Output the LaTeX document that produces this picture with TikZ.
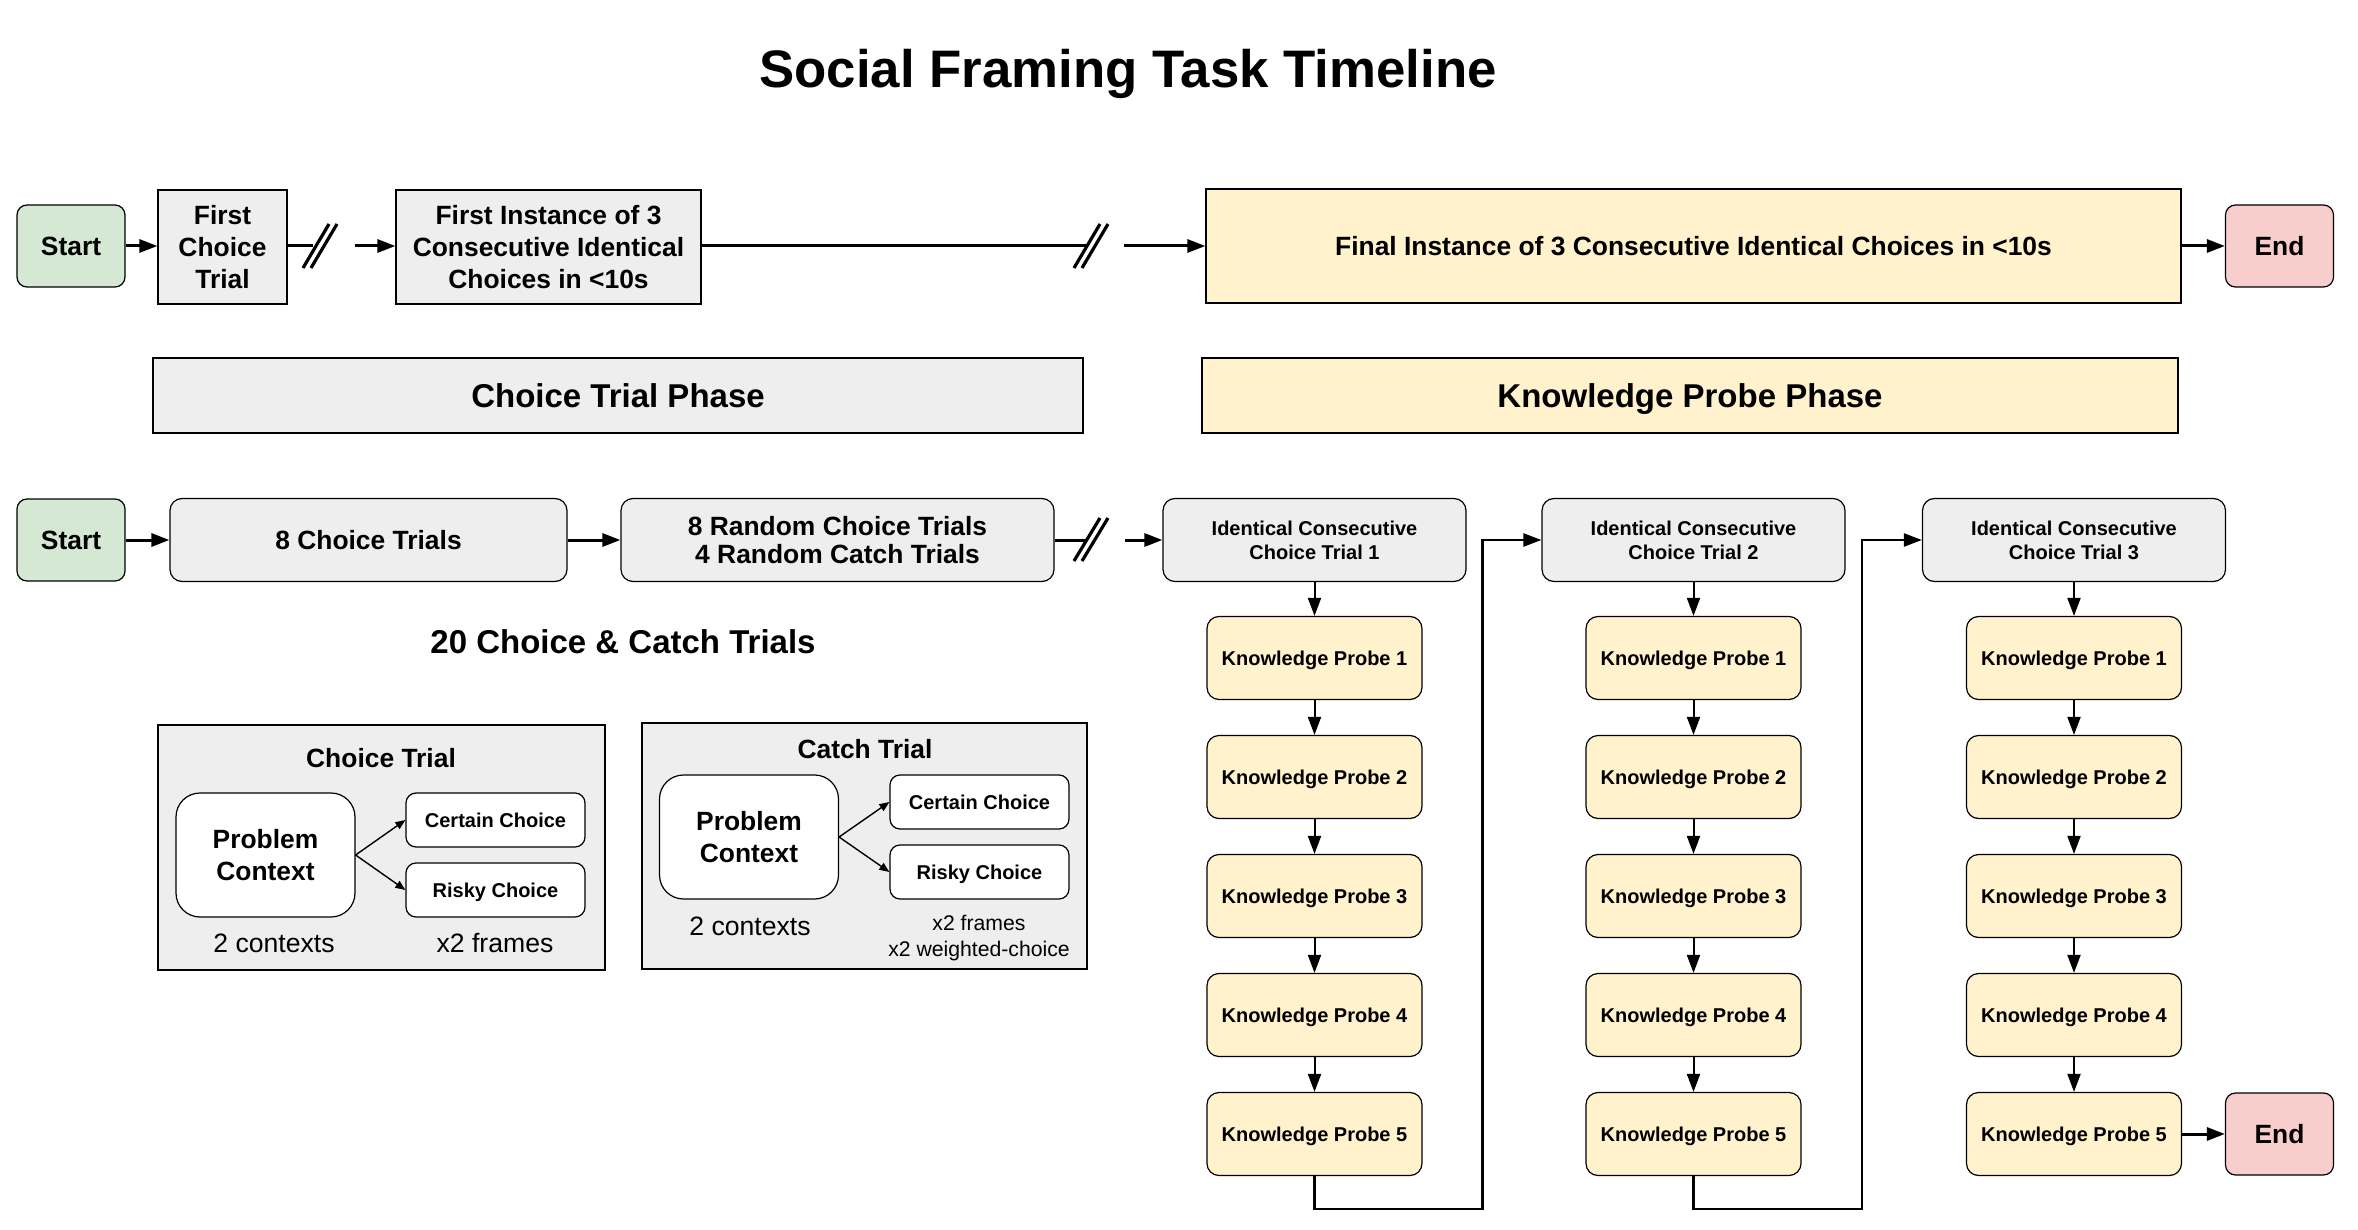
\documentclass[tikz,border=0pt]{standalone}
\usepackage{fontspec}
\setmainfont{Liberation Sans}
\usetikzlibrary{arrows.meta}

\definecolor{startgreen}{HTML}{D5E8D4}
\definecolor{endred}{HTML}{F8CECC}
\definecolor{phasegrey}{HTML}{EEEEEE}
\definecolor{probeyellow}{HTML}{FFF2CC}

\newcommand{\boxfont}{\bfseries\fontsize{13.2}{15.8}\selectfont}
\newcommand{\probefont}{\bfseries\fontsize{10}{12}\selectfont}
\newcommand{\phasefont}{\bfseries\fontsize{16.5}{19.8}\selectfont}
\newcommand{\titlefont}{\bfseries\fontsize{26.4}{31.7}\selectfont}
\newcommand{\notefont}{\fontsize{13.3}{16}\selectfont}
\newcommand{\smallnote}{\fontsize{10.6}{12.8}\selectfont}

\tikzset{
    every node/.style={align=center, inner sep=0pt},
    smallline/.style={text height=7.2pt, text depth=0pt},
    phaseline/.style={text height=11.9pt, text depth=0pt},
    base/.style={draw=black, line width=0.6pt, font=\boxfont},
    terminal/.style={base, rounded corners=5pt, minimum width=54pt, minimum height=41pt},
    startbox/.style={terminal, fill=startgreen},
    endbox/.style={terminal, fill=endred},
    greybox/.style={base, fill=phasegrey},
    yellowbox/.style={base, fill=probeyellow},
    greyround/.style={greybox, rounded corners=6pt, minimum height=41.5pt},
    trialbox/.style={greyround, font=\probefont, minimum width=151.5pt},
    probebox/.style={yellowbox, smallline, rounded corners=6pt, font=\probefont, minimum width=107.5pt, minimum height=41.5pt},
    panel/.style={draw=black, line width=0.6pt, fill=phasegrey},
    contextbox/.style={base, fill=white, rounded corners=12pt, minimum width=89.5pt, minimum height=62pt},
    optionbox/.style={base, smallline, fill=white, rounded corners=5pt, font=\probefont, minimum width=89.5pt, minimum height=27pt},
    flowline/.style={line width=1.5pt},
    flow/.style={flowline, -{Triangle[length=9pt, width=6.5pt]}},
    stepflow/.style={line width=1pt, -{Triangle[length=9pt, width=6.5pt]}},
    loopflow/.style={line width=1.2pt, -{Triangle[length=9pt, width=6.5pt]}},
    branch/.style={line width=0.7pt, -{Triangle[length=5pt, width=4pt]}},
    cutmark/.style={line width=1.6pt}
}

\begin{document}
\begin{tikzpicture}[x=0.5pt, y=-0.5pt]
    \useasboundingbox (0,0) rectangle (2358,1230);

    \node[font=\titlefont, anchor=base] (title) at (1128,88) {Social Framing Task Timeline};

    \node[startbox] (start1) at (71,246) {Start};
    \node[greybox, minimum width=64.5pt, minimum height=57pt] (firsttrial) at (222.5,247) {First\\Choice\\Trial};
    \node[greybox, minimum width=152.5pt, minimum height=57pt] (firstinst) at (548.5,247) {First Instance of 3\\Consecutive Identical\\Choices in <10s};
    \node[yellowbox, minimum width=487.5pt, minimum height=57pt] (finalinst) at (1693.5,246) {Final Instance of 3 Consecutive Identical Choices in <10s};
    \node[endbox] (end1) at (2279.5,246) {End};

    \coordinate (cut1a) at (313,246);
    \coordinate (cut1b) at (355,246);
    \coordinate (cut2a) at (1088,246);
    \coordinate (cut2b) at (1124,246);
    \draw[flow] (start1) -- (start1 -| firsttrial.west);
    \draw[flowline] (firsttrial.east |- cut1a) -- (cut1a);
    \draw[cutmark] (303,268) -- (329,224) (311,268) -- (337,224);
    \draw[flow] (cut1b) -- (cut1b -| firstinst.west);
    \draw[flowline] (firstinst.east |- cut2a) -- (cut2a);
    \draw[cutmark] (1074,268) -- (1100,224) (1082,268) -- (1108,224);
    \draw[flow] (cut2b) -- (finalinst.west);
    \draw[flow] (finalinst) -- (end1);

    \node[greybox, font=\phasefont, minimum width=465pt, minimum height=37.5pt] (choicephase) at (618,395.5) {Choice Trial Phase};
    \node[yellowbox, phaseline, font=\phasefont, minimum width=488pt, minimum height=37.5pt] (probephase) at (1690,395.5) {Knowledge Probe Phase};

    \node[startbox] (start2) at (71,540) {Start};
    \node[greyround, minimum width=198.5pt] (eighttrials) at (368.5,540) {8 Choice Trials};
    \node[greyround, minimum width=216.5pt] (randomtrials) at (837.5,540) {8 Random Choice Trials\\[-1.5pt]4 Random Catch Trials};
    \node[trialbox] (ict1) at (1314.5,540) {Identical Consecutive\\Choice Trial 1};
    \node[trialbox] (ict2) at (1693.5,540) {Identical Consecutive\\Choice Trial 2};
    \node[trialbox] (ict3) at (2074,540) {Identical Consecutive\\Choice Trial 3};

    \coordinate (cut3a) at (1085,540);
    \coordinate (cut3b) at (1125,540);
    \draw[flow] (start2) -- (eighttrials);
    \draw[flow] (eighttrials) -- (randomtrials);
    \draw[flowline] (randomtrials.east) -- (cut3a);
    \draw[cutmark] (1074,561) -- (1100,518) (1082,561) -- (1108,518);
    \draw[flow] (cut3b) -- (ict1.west);

    \node[probebox] (kp11) at (1314.5,658) {Knowledge Probe 1};
    \node[probebox] (kp12) at (1314.5,777) {Knowledge Probe 2};
    \node[probebox] (kp13) at (1314.5,896) {Knowledge Probe 3};
    \node[probebox] (kp14) at (1314.5,1015) {Knowledge Probe 4};
    \node[probebox] (kp15) at (1314.5,1134) {Knowledge Probe 5};
    \node[probebox] (kp21) at (1693.5,658) {Knowledge Probe 1};
    \node[probebox] (kp22) at (1693.5,777) {Knowledge Probe 2};
    \node[probebox] (kp23) at (1693.5,896) {Knowledge Probe 3};
    \node[probebox] (kp24) at (1693.5,1015) {Knowledge Probe 4};
    \node[probebox] (kp25) at (1693.5,1134) {Knowledge Probe 5};
    \node[probebox] (kp31) at (2074,658) {Knowledge Probe 1};
    \node[probebox] (kp32) at (2074,777) {Knowledge Probe 2};
    \node[probebox] (kp33) at (2074,896) {Knowledge Probe 3};
    \node[probebox] (kp34) at (2074,1015) {Knowledge Probe 4};
    \node[probebox] (kp35) at (2074,1134) {Knowledge Probe 5};
    \node[endbox] (end2) at (2279.5,1134) {End};

    \draw[stepflow] (ict1) -- (kp11);
    \draw[stepflow] (kp11) -- (kp12);
    \draw[stepflow] (kp12) -- (kp13);
    \draw[stepflow] (kp13) -- (kp14);
    \draw[stepflow] (kp14) -- (kp15);
    \draw[stepflow] (ict2) -- (kp21);
    \draw[stepflow] (kp21) -- (kp22);
    \draw[stepflow] (kp22) -- (kp23);
    \draw[stepflow] (kp23) -- (kp24);
    \draw[stepflow] (kp24) -- (kp25);
    \draw[stepflow] (ict3) -- (kp31);
    \draw[stepflow] (kp31) -- (kp32);
    \draw[stepflow] (kp32) -- (kp33);
    \draw[stepflow] (kp33) -- (kp34);
    \draw[stepflow] (kp34) -- (kp35);
    \draw[loopflow] (kp15.south) -- ++(0,33) -| ([xshift=-29.5pt]ict2.west) -- (ict2.west);
    \draw[loopflow] (kp25.south) -- ++(0,33) -| ([xshift=-30pt]ict3.west) -- (ict3.west);
    \draw[flow] (kp35) -- (end2);

    \node[font=\phasefont] (trialcount) at (623,642) {20 Choice \& Catch Trials};

    \node[panel, minimum width=223.5pt, minimum height=122.5pt] (choicepanel) at (381.5,847.5) {};
    \node[font=\boxfont] (choicehead) at (381,758) {Choice Trial};
    \node[contextbox] (context1) at (265.5,855) {Problem\\Context};
    \node[optionbox] (certain1) at (495.5,820) {Certain Choice};
    \node[optionbox] (risky1) at (495.5,890) {Risky Choice};
    \node[font=\notefont] (contexts1) at (274,943) {2 contexts};
    \node[font=\notefont] (frames1) at (495,943) {x2 frames};
    \draw[branch] (context1.east) -- (certain1.west);
    \draw[branch] (context1.east) -- (risky1.west);

    \node[panel, minimum width=222.5pt, minimum height=123pt] (catchpanel) at (864.5,846) {};
    \node[font=\boxfont] (catchhead) at (865,749) {Catch Trial};
    \node[contextbox] (context2) at (749,837) {Problem\\Context};
    \node[optionbox] (certain2) at (979.5,802) {Certain Choice};
    \node[optionbox] (risky2) at (979.5,872) {Risky Choice};
    \node[font=\notefont] (contexts2) at (750,926) {2 contexts};
    \node[font=\smallnote] (frames2) at (979,938) {x2 frames\\x2 weighted-choice};
    \draw[branch] (context2.east) -- (certain2.west);
    \draw[branch] (context2.east) -- (risky2.west);
\end{tikzpicture}
\end{document}
